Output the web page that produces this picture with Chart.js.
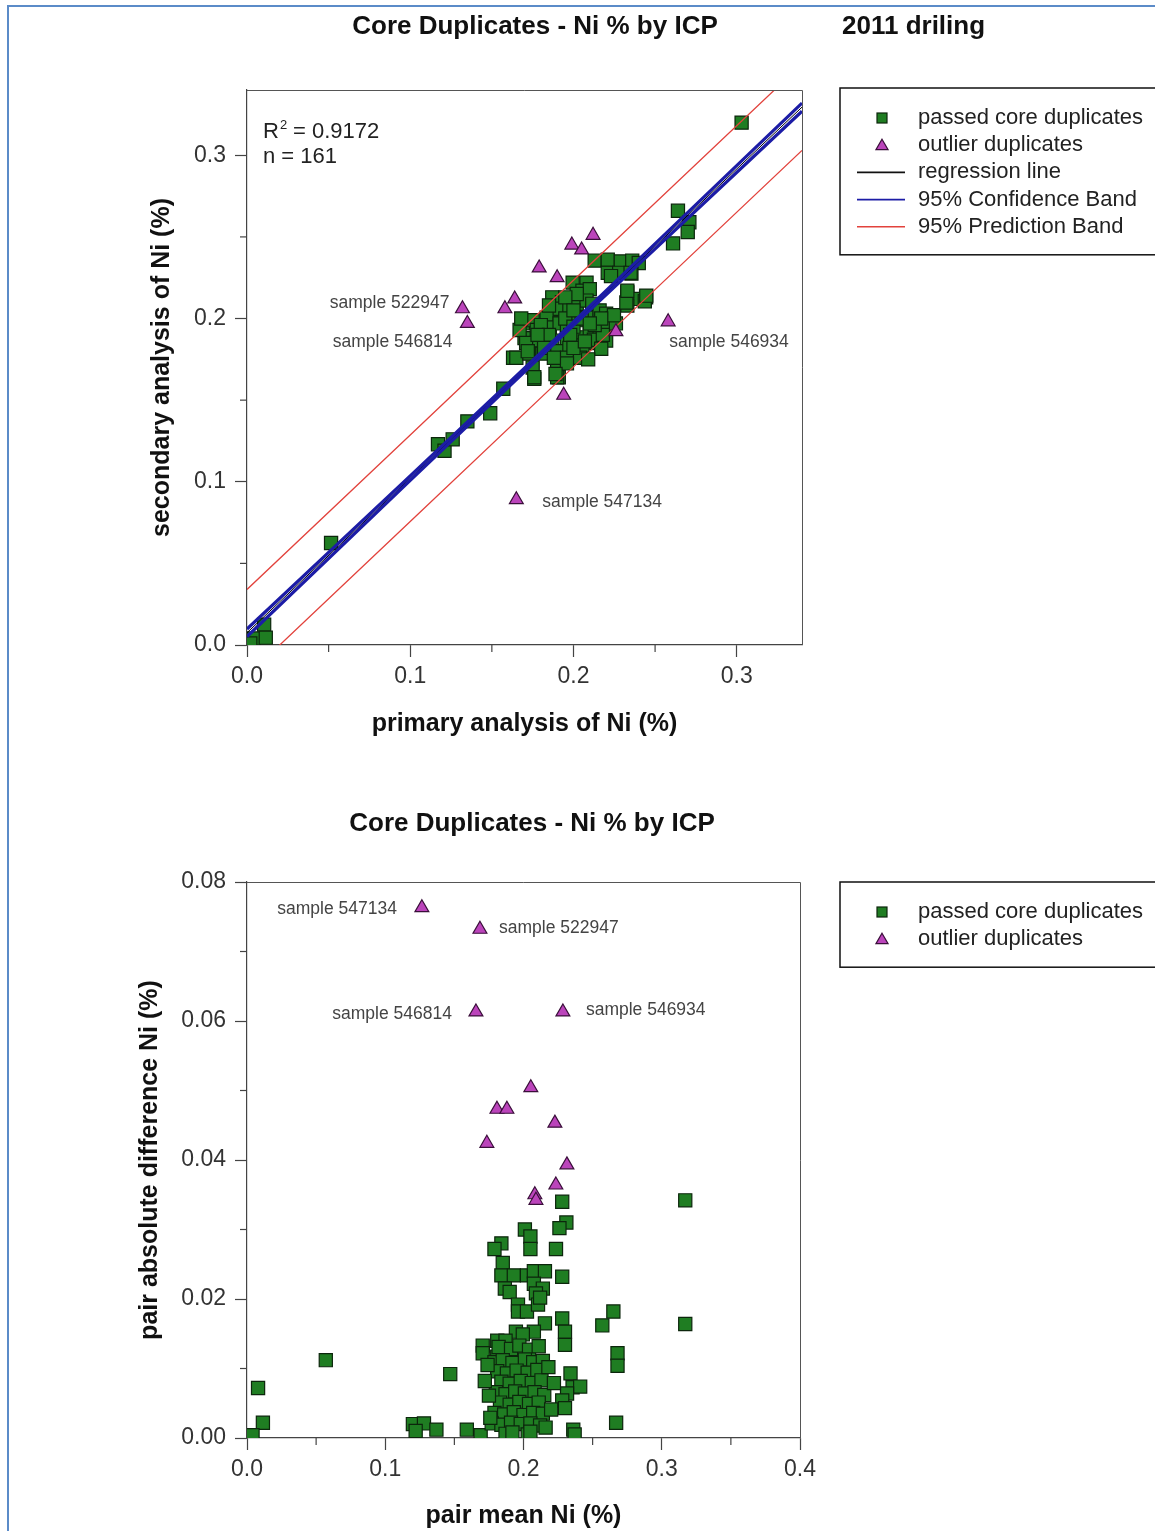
<!DOCTYPE html>
<html>
<head>
<meta charset="utf-8">
<title>Core Duplicates - Ni % by ICP</title>
<script src="https://cdn.jsdelivr.net/npm/chart.js@4.4.0/dist/chart.umd.min.js"></script>
<style>
  body { margin: 0; background: #fff; width: 1155px; height: 1531px; overflow: hidden; position: relative; }
  .frame { position: absolute; left: 7px; top: 5px; width: 1400px; height: 1800px; border: 2px solid #5b8bc8; }
  #top { position: absolute; left: 0; top: 0; }
  #bottom { position: absolute; left: 0; top: 780px; }
</style>
</head>
<body>
<div class="frame"></div>
<canvas id="top" width="1155" height="770"></canvas>
<canvas id="bottom" width="1155" height="751"></canvas>
<script>
// primary vs secondary assay, passed duplicates (Ni %)
const passedPrimary = [
  0.303, 0.264, 0.271, 0.270, 0.261, 0.004, 0.0105, 0.0115, 0.002, 0.0515,
  0.117, 0.121, 0.126, 0.135, 0.149, 0.157, 0.163, 0.170, 0.176, 0.191,
  0.213, 0.221, 0.229, 0.236, 0.240, 0.221, 0.228, 0.2355, 0.223,
  0.1995, 0.208, 0.2055, 0.210, 0.233, 0.2445, 0.239, 0.233,
  0.187, 0.193, 0.187, 0.191, 0.1975, 0.202, 0.208, 0.2115,
  0.169, 0.175, 0.1835, 0.167, 0.1775, 0.1855, 0.1915, 0.196, 0.202, 0.208, 0.216, 0.220, 0.224,
  0.171, 0.179, 0.187, 0.196, 0.204, 0.210, 0.216, 0.220, 0.226,
  0.165, 0.173, 0.181, 0.190, 0.1975, 0.2055, 0.214, 0.220,
  0.175, 0.190, 0.196, 0.204, 0.176, 0.190,
  0.2125, 0.218, 0.2248, 0.2324, 0.2437, 0.2446, 0.233, 0.235, 0.217, 0.209, 0.196, 0.189,
  0.180, 0.185, 0.195, 0.200, 0.205, 0.198, 0.182, 0.188, 0.200, 0.207,
  0.213, 0.217, 0.202, 0.195, 0.178, 0.172, 0.168, 0.185, 0.200, 0.210
];
const passedSecondary = [
  0.320, 0.266, 0.259, 0.253, 0.246, 0.004, 0.0125, 0.0045, 0.001, 0.0625,
  0.123, 0.119, 0.126, 0.137, 0.142, 0.157, 0.176, 0.188, 0.163, 0.164,
  0.2355, 0.236, 0.235, 0.2355, 0.234, 0.228, 0.228, 0.2275, 0.226,
  0.222, 0.222, 0.217, 0.218, 0.216, 0.213, 0.212, 0.208,
  0.213, 0.210, 0.205, 0.206, 0.207, 0.209, 0.211, 0.209,
  0.197, 0.199, 0.2005, 0.193, 0.193, 0.1945, 0.197, 0.1945, 0.199, 0.2005, 0.205, 0.203, 0.200,
  0.185, 0.1865, 0.1865, 0.188, 0.1885, 0.191, 0.193, 0.1945, 0.197,
  0.176, 0.1785, 0.1785, 0.180, 0.182, 0.1835, 0.185, 0.1865,
  0.170, 0.1725, 0.176, 0.176, 0.164, 0.164,
  0.187, 0.190, 0.202, 0.2098, 0.2106, 0.214, 0.217, 0.228, 0.1815, 0.175, 0.1725, 0.166,
  0.196, 0.190, 0.200, 0.195, 0.200, 0.190, 0.182, 0.176, 0.182, 0.186,
  0.196, 0.200, 0.215, 0.213, 0.190, 0.180, 0.200, 0.208, 0.205, 0.197
];
const outlierPrimary = [0.132, 0.135, 0.158, 0.164, 0.179, 0.190, 0.199, 0.205, 0.212, 0.226, 0.258, 0.194, 0.165];
const outlierSecondary = [0.206, 0.197, 0.206, 0.212, 0.231, 0.225, 0.245, 0.242, 0.251, 0.192, 0.198, 0.153, 0.089];

// regression, 95% confidence and prediction bands
const fitX = [0, 0.1, 0.2, 0.34];
const fitLine = [0.0075, 0.1022, 0.1969, 0.3295];
const confUpper = [0.0098, 0.1036, 0.1980, 0.3320];
const confLower = [0.0052, 0.1008, 0.1958, 0.3270];
const predUpper = [0.034, 0.1287, 0.2234, 0.356];
const predLower = [-0.019, 0.0757, 0.1704, 0.303];

// pair mean vs pair absolute difference (Ni %)
const passedMean = [
  0.317, 0.317, 0.057, 0.008, 0.0115, 0.004, 0.147, 0.120, 0.128, 0.122, 0.137, 0.159, 0.169,
  0.267, 0.236, 0.237, 0.265, 0.257, 0.268, 0.268, 0.228, 0.231, 0.226, 0.201, 0.205, 0.205,
  0.2235, 0.184, 0.179, 0.185, 0.184, 0.193, 0.2025, 0.2075, 0.2155, 0.228, 0.1865, 0.2075,
  0.214, 0.190, 0.209, 0.196, 0.196, 0.2025, 0.2105, 0.212, 0.228, 0.230, 0.230, 0.2155,
  0.1945, 0.2075, 0.1995, 0.1705, 0.1705, 0.181, 0.187, 0.181, 0.179, 0.234, 0.2355, 0.241,
  0.2315, 0.228, 0.230,
  0.182, 0.191, 0.197, 0.204, 0.211, 0.185, 0.192, 0.201, 0.207, 0.214,
  0.181, 0.188, 0.195, 0.203, 0.210, 0.184, 0.190, 0.198, 0.206, 0.213,
  0.180, 0.187, 0.194, 0.201, 0.208, 0.215, 0.183, 0.190, 0.197, 0.204, 0.211,
  0.179, 0.186, 0.193, 0.200, 0.207, 0.214, 0.177, 0.184, 0.191, 0.198, 0.205, 0.212,
  0.187, 0.192, 0.203, 0.205, 0.218, 0.220, 0.216, 0.222, 0.175, 0.172, 0.176, 0.174
];
const passedDiff = [
  0.0342, 0.0164, 0.0112, 0.0072, 0.0022, 0.0004, 0.0092, 0.0020, 0.0021, 0.0010, 0.0012, 0.0012, 0.0004,
  0.0022, 0.0012, 0.0005, 0.0182, 0.0162, 0.0122, 0.0104, 0.0340, 0.0310, 0.0302, 0.0300, 0.0290, 0.0272,
  0.0272, 0.0280, 0.0272, 0.0252, 0.0234, 0.0234, 0.0234, 0.0240, 0.0240, 0.0232, 0.0215, 0.0222,
  0.0215, 0.0210, 0.0208, 0.0192, 0.0182, 0.0182, 0.0192, 0.0202, 0.0172, 0.0153, 0.0134, 0.0165,
  0.0153, 0.0153, 0.0149, 0.0133, 0.0122, 0.0140, 0.0140, 0.0117, 0.0109, 0.0093, 0.0073, 0.0074,
  0.0064, 0.0054, 0.0043,
  0.0131, 0.0128, 0.0133, 0.0127, 0.0132, 0.0112, 0.0108, 0.0113, 0.0109, 0.0111,
  0.0096, 0.0093, 0.0097, 0.0094, 0.0098, 0.0081, 0.0078, 0.0082, 0.0079, 0.0083,
  0.0066, 0.0063, 0.0067, 0.0064, 0.0066, 0.0062, 0.0051, 0.0048, 0.0052, 0.0049, 0.0051,
  0.0036, 0.0034, 0.0037, 0.0033, 0.0036, 0.0035, 0.0021, 0.0019, 0.0022, 0.0020, 0.0021, 0.0018,
  0.0006, 0.0008, 0.0005, 0.0009, 0.0102, 0.0041, 0.0015, 0.0079, 0.0061, 0.0082, 0.0029, 0.0105
];
const outlierMean = [0.1265, 0.1685, 0.1656, 0.2285, 0.2053, 0.1808, 0.188, 0.2227, 0.1735, 0.2314, 0.2234, 0.2082, 0.209];
const outlierDiff = [0.0763, 0.0732, 0.0613, 0.0613, 0.0504, 0.0473, 0.0473, 0.0453, 0.0424, 0.0393, 0.0364, 0.0350, 0.0342];

// labelled outliers (index into the outlier arrays)
const topNoteIndex = [0, 1, 10, 12];
const topNoteText = ['sample 522947', 'sample 546814', 'sample 546934', 'sample 547134'];
const bottomNoteIndex = [0, 1, 2, 3];
const bottomNoteText = ['sample 547134', 'sample 522947', 'sample 546814', 'sample 546934'];

// axis ticks
const topTicks = [0, 0.05, 0.1, 0.15, 0.2, 0.25, 0.3];
const topMajor = [0, 0.1, 0.2, 0.3];
const meanTicks = [0, 0.05, 0.1, 0.15, 0.2, 0.25, 0.3, 0.35, 0.4];
const meanMajor = [0, 0.1, 0.2, 0.3, 0.4];
const diffTicks = [0, 0.01, 0.02, 0.03, 0.04, 0.05, 0.06, 0.07, 0.08];
const diffMajor = [0, 0.02, 0.04, 0.06, 0.08];

const FONT = '"Liberation Sans", Arial, sans-serif';
const GREEN = '#1f7d22';
const GREEN_EDGE = '#0c260c';
const PURPLE = '#bb44bb';
const PURPLE_EDGE = '#3a0f3a';
const BLUE = '#1c1ca6';
const RED = '#e2423c';

function pts(xs, ys) {
  return xs.map(function (x, i) { return { x: x, y: ys[i] }; });
}

function isIn(list, v) {
  return list.some(function (m) { return Math.abs(m - v) < 1e-9; });
}

function makeAxis(cfg) {
  return {
    type: 'linear',
    min: cfg.min,
    max: cfg.max,
    afterBuildTicks: function (scale) {
      scale.ticks = cfg.ticks.map(function (v) { return { value: v }; });
    },
    afterFit: function (scale) {
      if (cfg.vertical) scale.width = cfg.size;
      else scale.height = cfg.size;
    },
    ticks: {
      autoSkip: false,
      maxRotation: 0,
      minRotation: 0,
      padding: cfg.vertical ? 9 : 6,
      color: '#333',
      font: { family: FONT, size: 23 },
      callback: function (v) { return isIn(cfg.major, v) ? v.toFixed(cfg.digits) : ''; }
    },
    grid: {
      drawOnChartArea: false,
      tickLength: 12,
      tickWidth: 1.2,
      tickColor: function (ctx) {
        return ctx.tick && isIn(cfg.major, ctx.tick.value) ? '#444' : 'rgba(0,0,0,0)';
      }
    },
    border: { display: true, color: '#444', width: 1.2 },
    title: {
      display: true,
      text: cfg.title,
      color: '#111',
      padding: 0,
      font: { family: FONT, size: 25, weight: 'bold' }
    }
  };
}

function lineSet(label, xs, ys, color, width, order) {
  return {
    label: label,
    data: pts(xs, ys),
    showLine: true,
    pointRadius: 0,
    borderColor: color,
    borderWidth: width,
    fill: false,
    tension: 0,
    order: order
  };
}

function drawSquare(ctx, x, y, s) {
  ctx.fillStyle = GREEN;
  ctx.strokeStyle = GREEN_EDGE;
  ctx.lineWidth = 1.2;
  ctx.fillRect(x - s / 2, y - s / 2, s, s);
  ctx.strokeRect(x - s / 2, y - s / 2, s, s);
}

function drawTriangle(ctx, x, y, r) {
  ctx.beginPath();
  ctx.moveTo(x, y - r);
  ctx.lineTo(x + r * 0.866, y + r / 2);
  ctx.lineTo(x - r * 0.866, y + r / 2);
  ctx.closePath();
  ctx.fillStyle = PURPLE;
  ctx.strokeStyle = PURPLE_EDGE;
  ctx.lineWidth = 1.2;
  ctx.fill();
  ctx.stroke();
}

// frame, minor ticks, titles, legend box and sample labels
const decor = {
  id: 'decor',
  afterDraw: function (chart, args, o) {
    const ctx = chart.ctx;
    const a = chart.chartArea;
    ctx.save();

    ctx.strokeStyle = '#555';
    ctx.lineWidth = 1;
    ctx.beginPath();
    ctx.moveTo(a.left, a.top + 0.5);
    ctx.lineTo(a.right + 0.5, a.top + 0.5);
    ctx.lineTo(a.right + 0.5, a.bottom);
    ctx.stroke();

    ctx.strokeStyle = '#444';
    ctx.lineWidth = 1.2;
    ['x', 'y'].forEach(function (id) {
      const s = chart.scales[id];
      s.ticks.forEach(function (t) {
        if (isIn(o.major[id], t.value)) return;
        const p = s.getPixelForValue(t.value);
        ctx.beginPath();
        if (id === 'x') { ctx.moveTo(p, a.bottom); ctx.lineTo(p, a.bottom + 7); }
        else { ctx.moveTo(a.left, p); ctx.lineTo(a.left - 7, p); }
        ctx.stroke();
      });
    });

    ctx.fillStyle = '#111';
    ctx.textBaseline = 'middle';
    ctx.font = 'bold 26px ' + FONT;
    o.titles.forEach(function (t) {
      ctx.textAlign = t.align;
      ctx.fillText(t.text, t.x, t.y);
    });

    // legend
    const L = o.legend;
    const h = 58 + (L.items.length - 1) * 27.2;
    ctx.strokeStyle = '#111';
    ctx.lineWidth = 1.5;
    ctx.strokeRect(L.x, L.y, 400, h);
    ctx.font = '22px ' + FONT;
    ctx.textAlign = 'left';
    L.items.forEach(function (it, i) {
      const y = L.y + 30 + i * 27.2;
      if (it.type === 'square') drawSquare(ctx, L.x + 42, y, 10);
      else if (it.type === 'triangle') drawTriangle(ctx, L.x + 42, y + 1, 7);
      else {
        ctx.strokeStyle = it.color;
        ctx.lineWidth = 1.6;
        ctx.beginPath();
        ctx.moveTo(L.x + 17, y);
        ctx.lineTo(L.x + 65, y);
        ctx.stroke();
      }
      ctx.fillStyle = '#222';
      ctx.fillText(it.text, L.x + 78, y);
    });

    // labelled outliers
    const ds = chart.data.datasets[o.outlierSet].data;
    ctx.font = '17.5px ' + FONT;
    ctx.fillStyle = '#444';
    o.notes.forEach(function (n) {
      const p = ds[n.index];
      ctx.textAlign = n.dx < 0 ? 'right' : 'left';
      ctx.fillText(n.text, chart.scales.x.getPixelForValue(p.x) + n.dx,
        chart.scales.y.getPixelForValue(p.y) + n.dy);
    });

    if (o.stats) {
      ctx.fillStyle = '#222';
      ctx.textAlign = 'left';
      ctx.font = '22px ' + FONT;
      ctx.fillText('R', a.left + 16, a.top + 42);
      const rw = ctx.measureText('R').width;
      ctx.font = '13px ' + FONT;
      ctx.fillText('2', a.left + 17 + rw, a.top + 35);
      ctx.font = '22px ' + FONT;
      ctx.fillText(' = 0.9172', a.left + 24 + rw, a.top + 42);
      ctx.fillText('n = 161', a.left + 16, a.top + 67);
    }
    ctx.restore();
  }
};

const baseOptions = {
  responsive: false,
  devicePixelRatio: 1,
  animation: false,
  events: []
};

// primary vs secondary
new Chart(document.getElementById('top'), {
  type: 'scatter',
  data: {
    datasets: [
      {
        label: 'passed core duplicates',
        data: pts(passedPrimary, passedSecondary),
        pointStyle: 'rect',
        pointRadius: 9.3,
        backgroundColor: GREEN,
        borderColor: GREEN_EDGE,
        borderWidth: 1.2,
        order: 4
      },
      lineSet('regression line', fitX, fitLine, '#000', 1, 3),
      lineSet('95% Confidence Band', fitX, confUpper, BLUE, 3.2, 2),
      lineSet('95% Confidence Band', fitX, confLower, BLUE, 3.2, 2),
      lineSet('95% Prediction Band', fitX, predUpper, RED, 1.3, 1),
      lineSet('95% Prediction Band', fitX, predLower, RED, 1.3, 1),
      {
        label: 'outlier duplicates',
        data: pts(outlierPrimary, outlierSecondary),
        pointStyle: 'triangle',
        pointRadius: 8,
        backgroundColor: PURPLE,
        borderColor: PURPLE_EDGE,
        borderWidth: 1.2,
        order: 0
      }
    ]
  },
  options: Object.assign({}, baseOptions, {
    layout: { padding: { left: 147, right: 353, top: 90, bottom: 31 } },
    scales: {
      x: makeAxis({ min: 0, max: 0.34, ticks: topTicks, major: topMajor, digits: 1, size: 94,
        title: 'primary analysis of Ni (%)' }),
      y: makeAxis({ min: 0, max: 0.34, ticks: topTicks, major: topMajor, digits: 1, size: 100,
        vertical: true, title: 'secondary analysis of Ni (%)' })
    },
    plugins: {
      legend: { display: false },
      tooltip: { enabled: false },
      decor: {
        major: { x: topMajor, y: topMajor },
        titles: [
          { text: 'Core Duplicates - Ni % by ICP', x: 535, y: 27, align: 'center' },
          { text: '2011 driling', x: 842, y: 27, align: 'left' }
        ],
        legend: {
          x: 840, y: 88,
          items: [
            { type: 'square', text: 'passed core duplicates' },
            { type: 'triangle', text: 'outlier duplicates' },
            { type: 'line', color: '#111', text: 'regression line' },
            { type: 'line', color: BLUE, text: '95% Confidence Band' },
            { type: 'line', color: RED, text: '95% Prediction Band' }
          ]
        },
        outlierSet: 6,
        notes: [
          { index: topNoteIndex[0], text: topNoteText[0], dx: -13, dy: -6 },
          { index: topNoteIndex[1], text: topNoteText[1], dx: -15, dy: 19 },
          { index: topNoteIndex[2], text: topNoteText[2], dx: 1, dy: 20 },
          { index: topNoteIndex[3], text: topNoteText[3], dx: 26, dy: 2 }
        ],
        stats: true
      }
    }
  }),
  plugins: [decor]
});

// pair mean vs pair difference
new Chart(document.getElementById('bottom'), {
  type: 'scatter',
  data: {
    datasets: [
      {
        label: 'passed core duplicates',
        data: pts(passedMean, passedDiff),
        pointStyle: 'rect',
        pointRadius: 9.3,
        backgroundColor: GREEN,
        borderColor: GREEN_EDGE,
        borderWidth: 1.2,
        order: 1
      },
      {
        label: 'outlier duplicates',
        data: pts(outlierMean, outlierDiff),
        pointStyle: 'triangle',
        pointRadius: 8,
        backgroundColor: PURPLE,
        borderColor: PURPLE_EDGE,
        borderWidth: 1.2,
        order: 0
      }
    ]
  },
  options: Object.assign({}, baseOptions, {
    layout: { padding: { left: 135, right: 355, top: 102, bottom: 0 } },
    scales: {
      x: makeAxis({ min: 0, max: 0.4, ticks: meanTicks, major: meanMajor, digits: 1, size: 93,
        title: 'pair mean Ni (%)' }),
      y: makeAxis({ min: 0, max: 0.08, ticks: diffTicks, major: diffMajor, digits: 2, size: 112,
        vertical: true, title: 'pair absolute difference Ni (%)' })
    },
    plugins: {
      legend: { display: false },
      tooltip: { enabled: false },
      decor: {
        major: { x: meanMajor, y: diffMajor },
        titles: [
          { text: 'Core Duplicates - Ni % by ICP', x: 532, y: 44, align: 'center' }
        ],
        legend: {
          x: 840, y: 102,
          items: [
            { type: 'square', text: 'passed core duplicates' },
            { type: 'triangle', text: 'outlier duplicates' }
          ]
        },
        outlierSet: 1,
        notes: [
          { index: bottomNoteIndex[0], text: bottomNoteText[0], dx: -25, dy: 1 },
          { index: bottomNoteIndex[1], text: bottomNoteText[1], dx: 19, dy: -1 },
          { index: bottomNoteIndex[2], text: bottomNoteText[2], dx: -24, dy: 2 },
          { index: bottomNoteIndex[3], text: bottomNoteText[3], dx: 23, dy: -2 }
        ],
        stats: false
      }
    }
  }),
  plugins: [decor]
});
</script>
</body>
</html>
